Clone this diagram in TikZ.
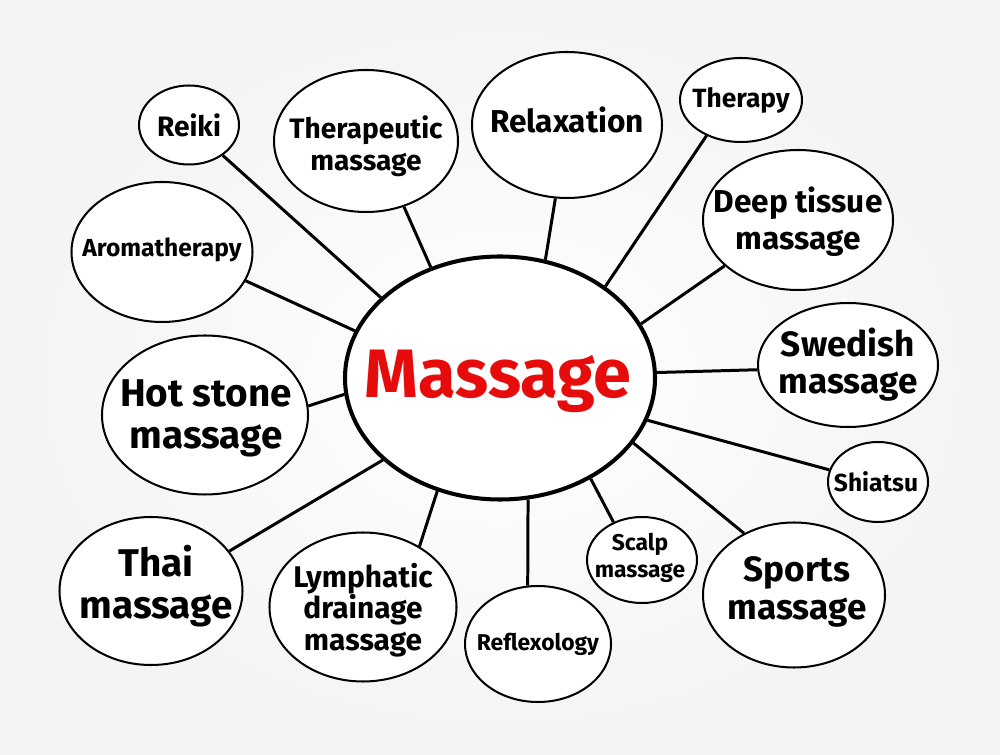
\documentclass[tikz,border=0pt]{standalone}
\usepackage{fontspec}
\setmainfont{Fira Sans}
\usetikzlibrary{shapes.geometric}
\definecolor{massred}{RGB}{230,12,12}
\newcommand{\hw}[2]{\fontsize{#1}{#2}\selectfont\bfseries}

\begin{document}
\begin{tikzpicture}[x=.2mm,y=-.2mm,
  bubble/.style={draw,ellipse,fill=white,line width=1.15pt,inner sep=0pt},
  spoke/.style={line width=1.7pt},
  lbl/.style={align=center}]
  \useasboundingbox (0,0) rectangle (1000,755);
  \shade[inner color=white,outer color=gray!9] (0,0) rectangle (1000,755);
  % hub
  \node[bubble,line width=2.3pt,minimum width=62mm,minimum height=48.6mm] (main) at (500,378) {};
  \node[font=\hw{39}{44},text=massred] (main-t) at (498,381) {Massage};
  % bubbles, clockwise from top left
  \node[bubble,minimum width=20mm,minimum height=15.8mm] (reiki) at (189,125) {};
  \node[lbl,font=\hw{16}{18}] (reiki-t) at (189,125) {Reiki};
  \node[bubble,minimum width=36.8mm,minimum height=28.4mm] (thpt) at (366,141) {};
  \node[lbl,font=\hw{16}{18}] (thpt-t) at (366,146) {Therapeutic\\massage};
  \node[bubble,minimum width=38mm,minimum height=29.2mm] (relax) at (567,125) {};
  \node[lbl,font=\hw{18}{20}] (relax-t) at (567,120) {Relaxation};
  \node[bubble,minimum width=24.4mm,minimum height=16.8mm] (therapy) at (741,100) {};
  \node[lbl,font=\hw{15}{17}] (therapy-t) at (741,100) {Therapy};
  \node[bubble,minimum width=38mm,minimum height=28mm] (deep) at (798,220) {};
  \node[lbl,font=\hw{18}{21}] (deep-t) at (798,222) {Deep tissue\\massage};
  \node[bubble,minimum width=36mm,minimum height=24.8mm] (swed) at (848,365) {};
  \node[lbl,font=\hw{20}{21}] (swed-t) at (848,365) {Swedish\\massage};
  \node[bubble,minimum width=20mm,minimum height=16mm] (shiatsu) at (878,482) {};
  \node[lbl,font=\hw{14}{16}] (shiatsu-t) at (876,482) {Shiatsu};
  \node[bubble,minimum width=36.4mm,minimum height=29mm] (sports) at (794,595) {};
  \node[lbl,font=\hw{20}{22}] (sports-t) at (797,592) {Sports\\massage};
  \node[bubble,minimum width=22mm,minimum height=17.2mm] (scalp) at (642,560) {};
  \node[lbl,font=\hw{13}{15}] (scalp-t) at (640,558) {Scalp\\massage};
  \node[bubble,minimum width=29.2mm,minimum height=23.2mm] (reflex) at (538,644) {};
  \node[lbl,font=\hw{13}{15}] (reflex-t) at (538,644) {Reflexology};
  \node[bubble,minimum width=37.4mm,minimum height=29.8mm] (lymph) at (363,607) {};
  \node[lbl,font=\hw{17}{18}] (lymph-t) at (363,610) {Lymphatic\\drainage\\massage};
  \node[bubble,minimum width=36.6mm,minimum height=29.6mm] (thai) at (151,591) {};
  \node[lbl,font=\hw{22}{24}] (thai-t) at (156,586) {Thai\\massage};
  \node[bubble,minimum width=41.2mm,minimum height=31.8mm] (hot) at (205,415) {};
  \node[lbl,font=\hw{22}{24}] (hot-t) at (206,418) {Hot stone\\massage};
  \node[bubble,minimum width=36.2mm,minimum height=28mm] (aroma) at (162,252) {};
  \node[lbl,font=\hw{14}{16}] (aroma-t) at (162,250) {Aromatherapy};
  % spokes
  \draw[spoke] (main.146) -- (reiki.-42);
  \draw[spoke] (main.122) -- (thpt.-60);
  \draw[spoke] (main.69) -- (relax.-99);
  \draw[spoke] (main.41) -- (therapy.-134);
  \draw[spoke] (main.21) -- (deep.212);
  \draw[spoke] (main.2) -- (swed.183);
  \draw[spoke] (main.-16) -- (shiatsu.166);
  \draw[spoke] (main.-26) -- (sports.129);
  \draw[spoke] (main.-48) -- (scalp.127);
  \draw[spoke] (main.-77) -- (reflex.100);
  \draw[spoke] (main.241) -- (lymph.47);
  \draw[spoke] (main.215) -- (thai.27);
  \draw[spoke] (main.186) -- (hot.5);
  \draw[spoke] (main.162) -- (aroma.-19);
\end{tikzpicture}
\end{document}
